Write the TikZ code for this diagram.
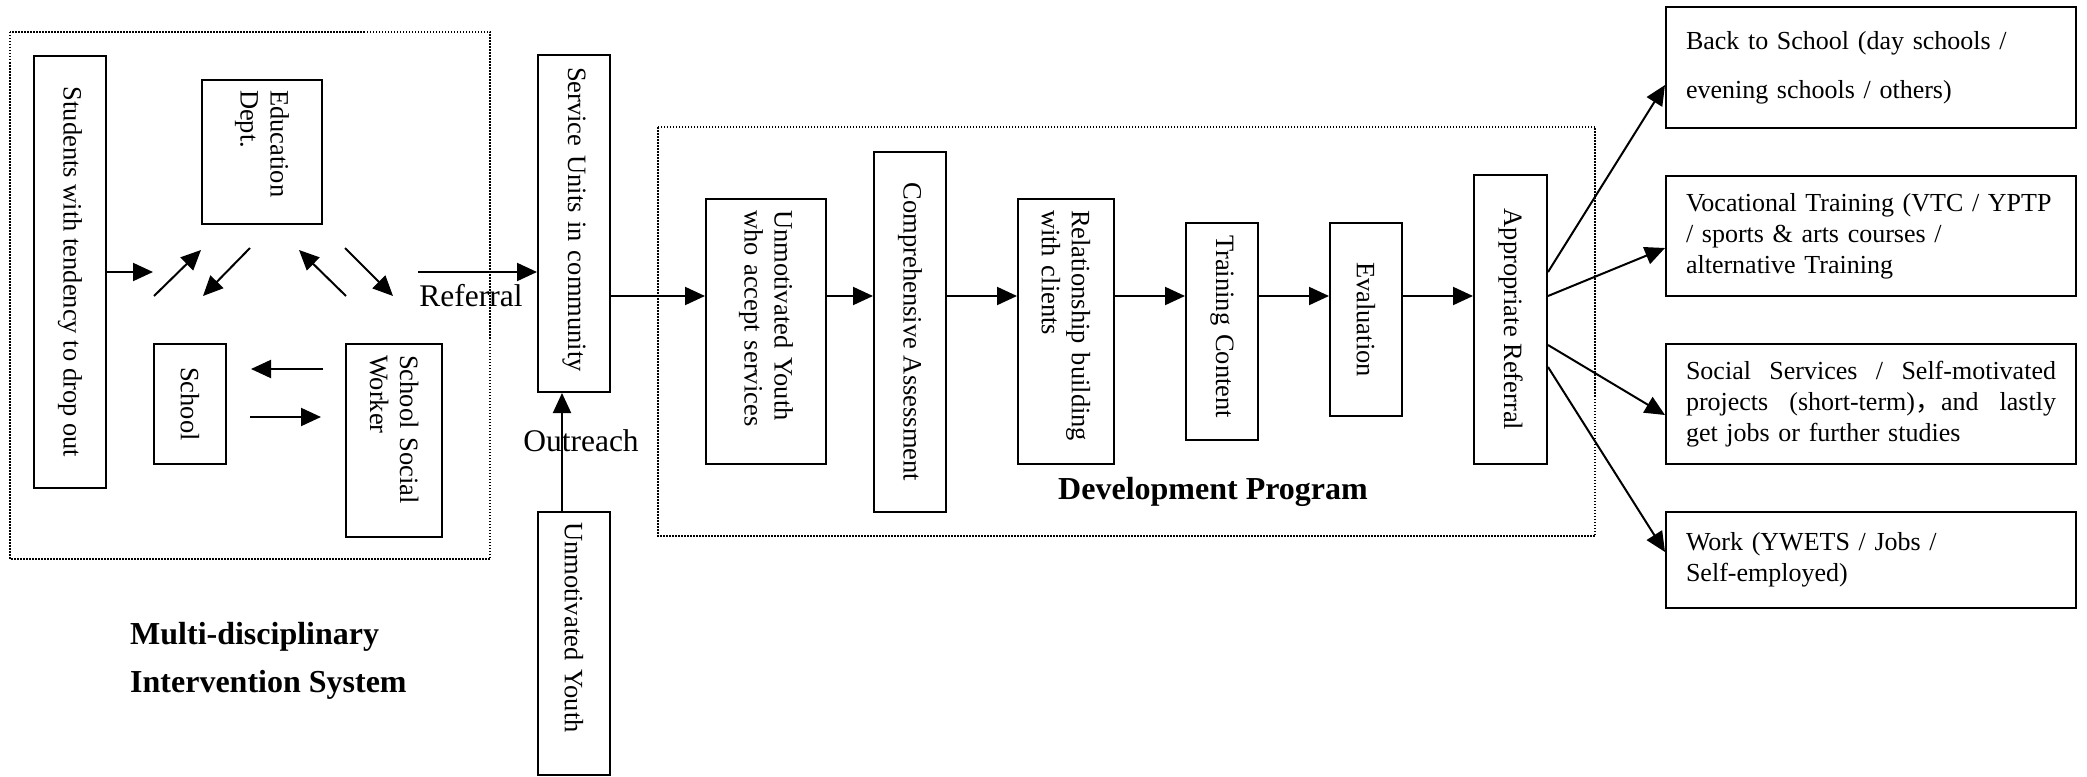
\documentclass[tikz,border=0pt]{standalone}
\usepackage{fontspec}
\setmainfont{Liberation Serif}
\newfontfamily\cjkfont{Noto Sans CJK SC}
\usetikzlibrary{arrows.meta,calc}
\begin{document}
\begin{tikzpicture}[x=1pt,y=-1pt,
  every node/.style={font=\fontsize{26.5}{30}\selectfont},
  vbox/.style={draw, line width=2pt, rotate=-90, inner sep=0pt},
  hbox/.style={draw, line width=2pt, inner xsep=20pt, inner ysep=0pt, minimum width=410pt, text width=370pt, align=left, font=\fontsize{26}{31}\selectfont},
  arr/.style={line width=2pt, -{Triangle[length=20pt,width=18pt]}},
  dotbox/.style={line width=1.5pt, dash pattern=on 1.5pt off 1.5pt},
  lbl/.style={font=\fontsize{31.5}{36}\selectfont, inner sep=0pt},
  ttl/.style={font=\fontsize{32}{48}\selectfont\bfseries, inner sep=0pt}]
\useasboundingbox (0,0) rectangle (2087,776);

% dotted groups
\draw[dotbox] (10,32) rectangle (490,559);
\draw[dotbox] (658,127) rectangle (1595,536);

% left group
\node[vbox, minimum width=432pt, minimum height=72pt] (stud) at (70,272) {Students with tendency to drop out};
\node[vbox, minimum width=144pt, minimum height=120pt, text width=124pt, align=left] (edu) at (262,152) {Education\\Dept.};
\node[vbox, minimum width=120pt, minimum height=72pt] (school) at (190,404) {School};
\node[vbox, minimum width=193pt, minimum height=96pt, text width=171pt, align=left] (ssw) at (394,440.5) {School Social\\Worker};

% service units and youth
\node[vbox, minimum width=337pt, minimum height=72pt, text width=313pt, align=left] (svc) at (574,223.5) {Service Units in community};
\node[vbox, minimum width=263pt, minimum height=72pt, text width=243pt, align=left] (uy) at (574,643.5) {Unmotivated Youth};

% development program
\node[vbox, minimum width=265pt, minimum height=120pt, text width=243pt, align=left] (uya) at (766,331.5) {Unmotivated Youth\\who accept services};
\node[vbox, minimum width=360pt, minimum height=72pt] (ca) at (910,332) {Comprehensive Assessment};
\node[vbox, minimum width=265pt, minimum height=96pt, text width=243pt, align=left] (rb) at (1066,331.5) {Relationship building\\with clients};
\node[vbox, minimum width=217pt, minimum height=72pt, text width=193pt, align=left] (tc) at (1222,331.5) {Training Content};
\node[vbox, minimum width=193pt, minimum height=72pt] (ev) at (1366,319.5) {Evaluation};
\node[vbox, minimum width=289pt, minimum height=73pt] (ar) at (1510.5,319.5) {Appropriate Referral};

% outcome boxes
\node[hbox, minimum height=121pt] (bts) at (1871,67.5) {Back to School (day schools /\\[18pt]evening schools / others)};
\node[hbox, minimum height=120pt] (voc) at (1871,236) {\mbox{Vocational Training (VTC / YPTP}\\/ sports \& arts courses /\\alternative Training};
\node[hbox, minimum height=120pt] (soc) at (1871,404) {Social\hfill Services\hfill /\hfill Self-motivated\\projects\hfill (short-term){\cjkfont ，}and\hfill lastly\\get jobs or further studies};
\node[hbox, minimum height=96pt] (work) at (1871,559.5) {Work (YWETS / Jobs /\\Self-employed)};

% labels
\node[lbl] (reflbl) at (471,296) {Referral};
\node[ttl] (devlbl) at (1213,492) {Development Program};
\node[ttl, anchor=north west, align=left] (mdis) at (130,622) {Multi-disciplinary\\Intervention System};

% helper coordinates
\coordinate (flow) at (0,296);
\coordinate (studend) at (153,272);
\coordinate (refstart) at (418,272);
\coordinate (outx) at (562,0);
\coordinate (d1a) at (154,296); \coordinate (d1b) at (201,250);
\coordinate (d2a) at (250,248); \coordinate (d2b) at (203,296);
\coordinate (d3a) at (346,296); \coordinate (d3b) at (299,250);
\coordinate (d4a) at (345,248); \coordinate (d4b) at (393,296);
\coordinate (sa1) at (323,369); \coordinate (sa2) at (251,369);
\coordinate (sb1) at (250,417); \coordinate (sb2) at (321,417);
\coordinate (r1s) at (0,272); \coordinate (r1e) at (0,85);
\coordinate (r2s) at (0,296); \coordinate (r2e) at (0,248);
\coordinate (r3s) at (0,345); \coordinate (r3e) at (0,415);
\coordinate (r4s) at (0,367); \coordinate (r4e) at (0,552);

% left group arrows
\draw[arr] (stud.north |- studend) -- (studend);
\draw[arr] (d1a) -- (d1b);
\draw[arr] (d2a) -- (d2b);
\draw[arr] (d3a) -- (d3b);
\draw[arr] (d4a) -- (d4b);
\draw[arr] (sa1) -- (sa2);
\draw[arr] (sb1) -- (sb2);

% referral and outreach
\draw[arr] (refstart) -- (svc.south |- refstart);
\draw[arr] (uy.west -| outx) -- (svc.east -| outx);
\node[lbl] (outlbl) at (581,441) {Outreach};

% main flow
\draw[arr] (svc.north |- flow) -- (uya.south |- flow);
\draw[arr] (uya.north |- flow) -- (ca.south |- flow);
\draw[arr] (ca.north |- flow) -- (rb.south |- flow);
\draw[arr] (rb.north |- flow) -- (tc.south |- flow);
\draw[arr] (tc.north |- flow) -- (ev.south |- flow);
\draw[arr] (ev.north |- flow) -- (ar.south |- flow);

% outcomes
\draw[arr] (ar.north |- r1s) -- (bts.west |- r1e);
\draw[arr] (ar.north |- r2s) -- (voc.west |- r2e);
\draw[arr] (ar.north |- r3s) -- (soc.west |- r3e);
\draw[arr] (ar.north |- r4s) -- (work.west |- r4e);
\end{tikzpicture}
\end{document}
